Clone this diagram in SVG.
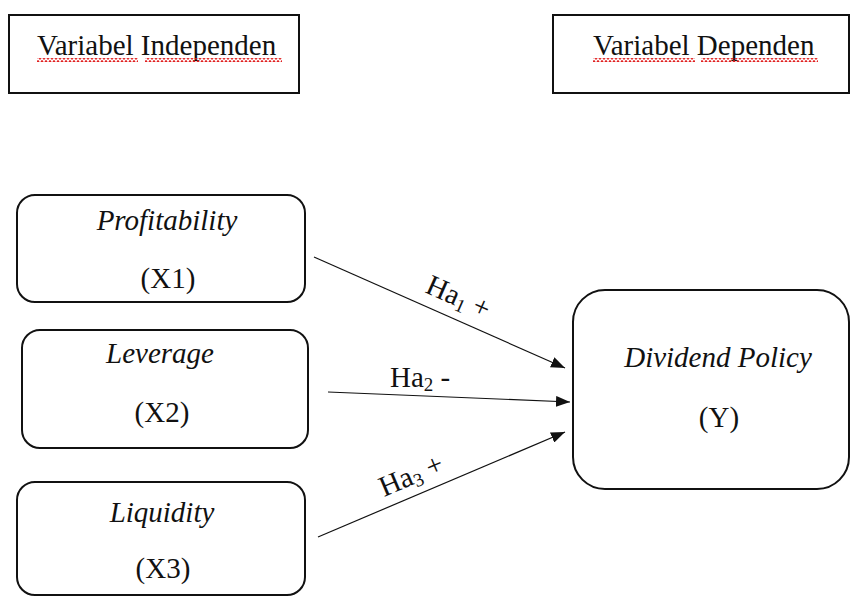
<svg xmlns="http://www.w3.org/2000/svg" width="851" height="597" viewBox="0 0 851 597">
<defs>
<style>
.box{fill:#fff;stroke:#111;stroke-width:2}
.t{font-family:"Liberation Serif","Times New Roman",serif;font-size:29px;fill:#111}
.i{font-style:italic}
.c{stroke:#111;stroke-width:1.2;fill:none}
</style>
<marker id="ah" viewBox="0 0 14 11" refX="14" refY="5.5" markerWidth="14" markerHeight="11" markerUnits="userSpaceOnUse" orient="auto">
<path d="M0,0 L14,5.5 L0,11 Z" fill="#111"/>
</marker>
<pattern id="wave" width="4" height="4" patternUnits="userSpaceOnUse">
<path d="M0,3.5 L2,0.5 L4,3.5" stroke="#e02020" stroke-width="1.1" fill="none"/>
</pattern>
</defs>
<rect width="851" height="597" fill="#fff"/>
<g id="label-independen">
<rect class="box" x="9" y="15" width="290" height="78"/>
<text class="t" x="37" y="55">Variabel Independen</text>
<rect x="37" y="58" width="101" height="4" fill="url(#wave)"/>
<rect x="145" y="58" width="137" height="4" fill="url(#wave)"/>
</g>
<g id="label-dependen">
<rect class="box" x="553" y="15" width="296" height="78"/>
<text class="t" x="593" y="55">Variabel Dependen</text>
<rect x="593" y="58" width="102" height="4" fill="url(#wave)"/>
<rect x="701" y="58" width="117" height="4" fill="url(#wave)"/>
</g>
<g id="node-x1">
<rect class="box" x="17" y="195" width="288" height="107" rx="18"/>
<text class="t i" x="167" y="230" text-anchor="middle">Profitability</text>
<text class="t" x="168" y="288" text-anchor="middle">(X1)</text>
</g>
<g id="node-x2">
<rect class="box" x="22" y="330" width="286" height="118" rx="18"/>
<text class="t i" x="160" y="363" text-anchor="middle">Leverage</text>
<text class="t" x="162" y="422" text-anchor="middle">(X2)</text>
</g>
<g id="node-x3">
<rect class="box" x="17" y="482" width="288" height="113" rx="18"/>
<text class="t i" x="162" y="522" text-anchor="middle">Liquidity</text>
<text class="t" x="163" y="578" text-anchor="middle">(X3)</text>
</g>
<g id="node-y">
<rect class="box" x="573" y="290" width="276" height="199" rx="32"/>
<text class="t i" x="718" y="367" text-anchor="middle">Dividend Policy</text>
<text class="t" x="719" y="427" text-anchor="middle">(Y)</text>
</g>
<g id="connectors">
<line class="c" x1="314" y1="257" x2="565" y2="368" marker-end="url(#ah)"/>
<line class="c" x1="328" y1="392" x2="570" y2="402" marker-end="url(#ah)"/>
<line class="c" x1="318" y1="537" x2="565" y2="432" marker-end="url(#ah)"/>
<text class="t" transform="translate(424,292) rotate(24)">Ha<tspan font-size="19" dy="4">1</tspan><tspan dy="-4"> +</tspan></text>
<text class="t" x="390" y="387">Ha<tspan font-size="19" dy="4">2</tspan><tspan dy="-4"> -</tspan></text>
<text class="t" transform="translate(384,497) rotate(-23)">Ha<tspan font-size="19" dy="4">3</tspan><tspan dy="-4"> +</tspan></text>
</g>
</svg>
